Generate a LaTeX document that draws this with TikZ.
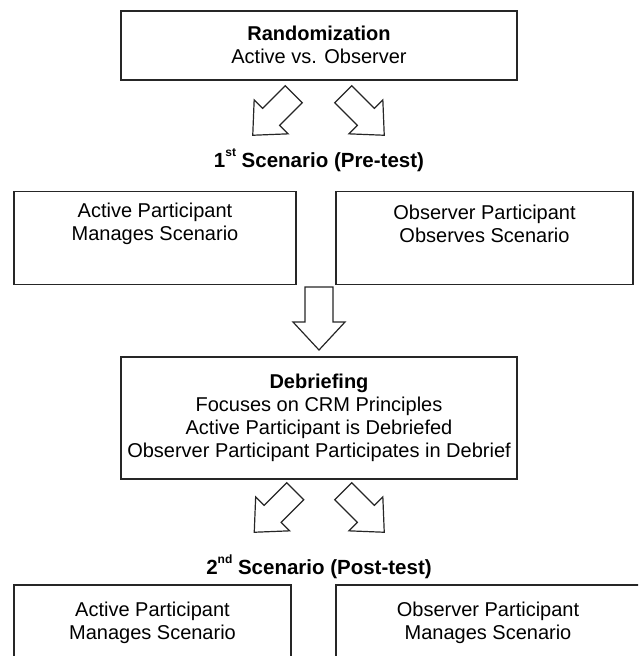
\documentclass[tikz,border=0pt]{standalone}
\usepackage{fontspec}
\setmainfont{Liberation Sans}
\begin{document}
\begin{tikzpicture}[x=1pt,y=-1pt,
  box/.style={draw=black!85, line width=1.2pt, inner sep=0pt, outer sep=0pt},
  txt/.style={align=center, inner sep=0pt, font=\fontsize{20}{23}\selectfont},
  ttl/.style={inner sep=0pt, anchor=base, font=\fontsize{20.5}{23}\selectfont\bfseries},
  blk/.style={draw=black!85, line width=1.2pt, line join=miter, fill=white}]
\useasboundingbox (0,0) rectangle (638,656);
\clip (0,0) rectangle (638,656);
\newcommand{\supx}[1]{\raisebox{11pt}{\fontsize{12}{12}\selectfont #1}}
% top box
\node[box, minimum width=396pt, minimum height=69pt] (rand) at (319,45.5) {};
\node[txt] (randT) at (319,45) {\textbf{Randomization}\\Active vs. Observer};
% first arrows
\draw[blk, shift={(277.5,110.5)}, rotate=-135] (-23,-12) -- (9,-12) -- (9,-24) -- (35,0) -- (9,24) -- (9,12) -- (-23,12) -- cycle;
\draw[blk, shift={(359.5,110.5)}, rotate=-45] (-23,-12) -- (9,-12) -- (9,-24) -- (35,0) -- (9,24) -- (9,12) -- (-23,12) -- cycle;
% title 1
\node[ttl] (s1) at (319,167) {1\supx{st} Scenario (Pre-test)};
% first row boxes
\node[box, minimum width=282pt, minimum height=93pt] (a1) at (155,238) {};
\node[txt] (a1T) at (155,224) {Active Participant\\Manages Scenario};
\node[box, minimum width=297pt, minimum height=93pt] (o1) at (484.5,238) {};
\node[txt] (o1T) at (484.5,224) {Observer Participant\\Observes Scenario};
% down arrow
\draw[blk] (305,287) -- (333,287) -- (333,322) -- (345,322) -- (319,350) -- (293,322) -- (305,322) -- cycle;
% debriefing
\node[box, minimum width=396pt, minimum height=122pt] (deb) at (319,418) {};
\node[txt] (debT) at (319,418) {\textbf{Debriefing}\\Focuses on CRM Principles\\Active Participant is Debriefed\\Observer Participant Participates in Debrief};
% second arrows
\draw[blk, shift={(279,507.5)}, rotate=-135] (-23,-12) -- (9,-12) -- (9,-24) -- (35,0) -- (9,24) -- (9,12) -- (-23,12) -- cycle;
\draw[blk, shift={(359.5,507.5)}, rotate=-45] (-23,-12) -- (9,-12) -- (9,-24) -- (35,0) -- (9,24) -- (9,12) -- (-23,12) -- cycle;
% title 2
\node[ttl] (s2) at (319,574) {2\supx{nd} Scenario (Post-test)};
% bottom boxes
\node[box, minimum width=277pt, minimum height=120pt] (a2) at (152.5,645) {};
\node[txt] (a2T) at (152.5,623) {Active Participant\\Manages Scenario};
\node[box, minimum width=304pt, minimum height=120pt] (o2) at (488,645) {};
\node[txt] (o2T) at (488,623) {Observer Participant\\Manages Scenario};
\end{tikzpicture}
\end{document}
